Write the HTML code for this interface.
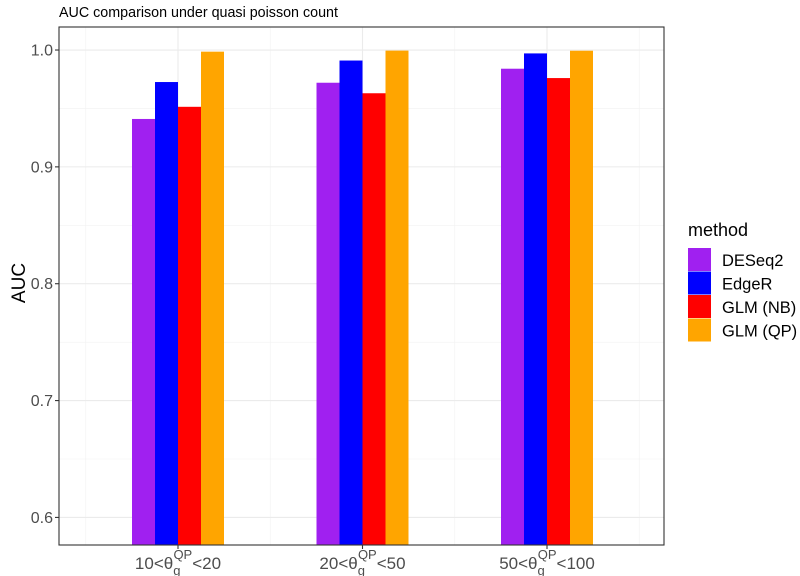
<!DOCTYPE html>
<html><head><meta charset="utf-8"><style>
body{margin:0;background:#fff;}
svg{font-family:"Liberation Sans",sans-serif;display:block}
</style></head><body>
<svg id="chart" width="800" height="576">
<text x="59" y="17" font-size="14.3" fill="#000">AUC comparison under quasi poisson count</text>
<g id="grid"></g><g id="bars"></g><g id="axes"></g>
<text transform="translate(25,283) rotate(-90)" text-anchor="middle" font-size="19" fill="#000">AUC</text>
<g id="legend"></g>
</svg>
<script>
const categories=[["10","20"],["20","50"],["50","100"]];
const methods=["DESeq2","EdgeR","GLM (NB)","GLM (QP)"];
const colors=["#A020F0","#0000FF","#FF0000","#FFA500"];
const deseq2=[0.941,0.972,0.984];
const edger=[0.9726,0.991,0.9971];
const glmNB=[0.9514,0.963,0.976];
const glmQP=[0.9986,0.9995,0.9994];
const yTicks=[0.6,0.7,0.8,0.9,1.0];
const yTickLabels=["0.6","0.7","0.8","0.9","1.0"];
const series=[deseq2,edger,glmNB,glmQP];
const NS="http://www.w3.org/2000/svg";
const L=59,R=664,T=27,B=545;
const yMin=0.5764,yMax=1.0197;
function y(v){return B-(v-yMin)/(yMax-yMin)*(B-T);}
const unit=184.5, x0=(L+R)/2-unit+1;
function x(i){return x0+i*unit;}
const bw=23;
function mk(tag,attrs,parent){const e=document.createElementNS(NS,tag);for(const k in attrs)e.setAttribute(k,attrs[k]);parent.appendChild(e);return e;}
const grid=document.getElementById('grid'),bars=document.getElementById('bars'),axes=document.getElementById('axes'),leg=document.getElementById('legend');
mk('rect',{x:L,y:T,width:R-L,height:B-T,fill:'#fff'},grid);
for(let i=0;i<yTicks.length-1;i++){const g=mk('line',{x1:L,x2:R,y1:y((yTicks[i]+yTicks[i+1])/2),y2:y((yTicks[i]+yTicks[i+1])/2),stroke:'#f2f2f2','stroke-width':0.6},grid);

}
for(let i=-1;i<categories.length;i++){const g=mk('line',{x1:x(i+0.5),x2:x(i+0.5),y1:T,y2:B,stroke:'#f2f2f2','stroke-width':0.6},grid);

}
yTicks.forEach((t,i)=>{const g=mk('line',{x1:L,x2:R,y1:y(t),y2:y(t),stroke:'#ebebeb','stroke-width':1.1},grid);


mk('line',{x1:L-4,x2:L,y1:y(t),y2:y(t),stroke:'#333','stroke-width':1.1},axes);
const tx=mk('text',{x:L-6,y:y(t)+5.5,'text-anchor':'end','font-size':16,fill:'#4d4d4d'},axes);tx.textContent=yTickLabels[i];

});
categories.forEach((c,i)=>{const g=mk('line',{x1:x(i),x2:x(i),y1:T,y2:B,stroke:'#ebebeb','stroke-width':1.1},grid);


series.forEach((s,j)=>{const bx=x(i)-2*bw+j*bw;const r=mk('rect',{x:bx,y:y(s[i]),width:bw,height:B-y(s[i]),fill:colors[j]},bars);

});
mk('line',{x1:x(i),x2:x(i),y1:B,y2:B+4,stroke:'#333','stroke-width':1.1},axes);
const t=mk('text',{x:x(i),y:569,'text-anchor':'middle','font-size':17,fill:'#4d4d4d'},axes);


t.innerHTML=c[0]+'&lt;θ<tspan font-size="13" dy="6">g</tspan><tspan font-size="13" dy="-16" dx="-7">QP</tspan><tspan dy="10">&lt;'+c[1]+'</tspan>';});
mk('rect',{x:L,y:T,width:R-L,height:B-T,fill:'none',stroke:'#333','stroke-width':1.1},axes);
const lt=mk('text',{x:688,y:236,'font-size':18,fill:'#000'},leg);lt.textContent='method';


methods.forEach((m,j)=>{const yy=248+j*23.5;
const k=mk('rect',{x:688,y:yy,width:23,height:23,fill:colors[j]},leg);


const t=mk('text',{x:722,y:yy+18,'font-size':16.5,fill:'#000'},leg);t.textContent=m;

});
</script>
</body></html>
